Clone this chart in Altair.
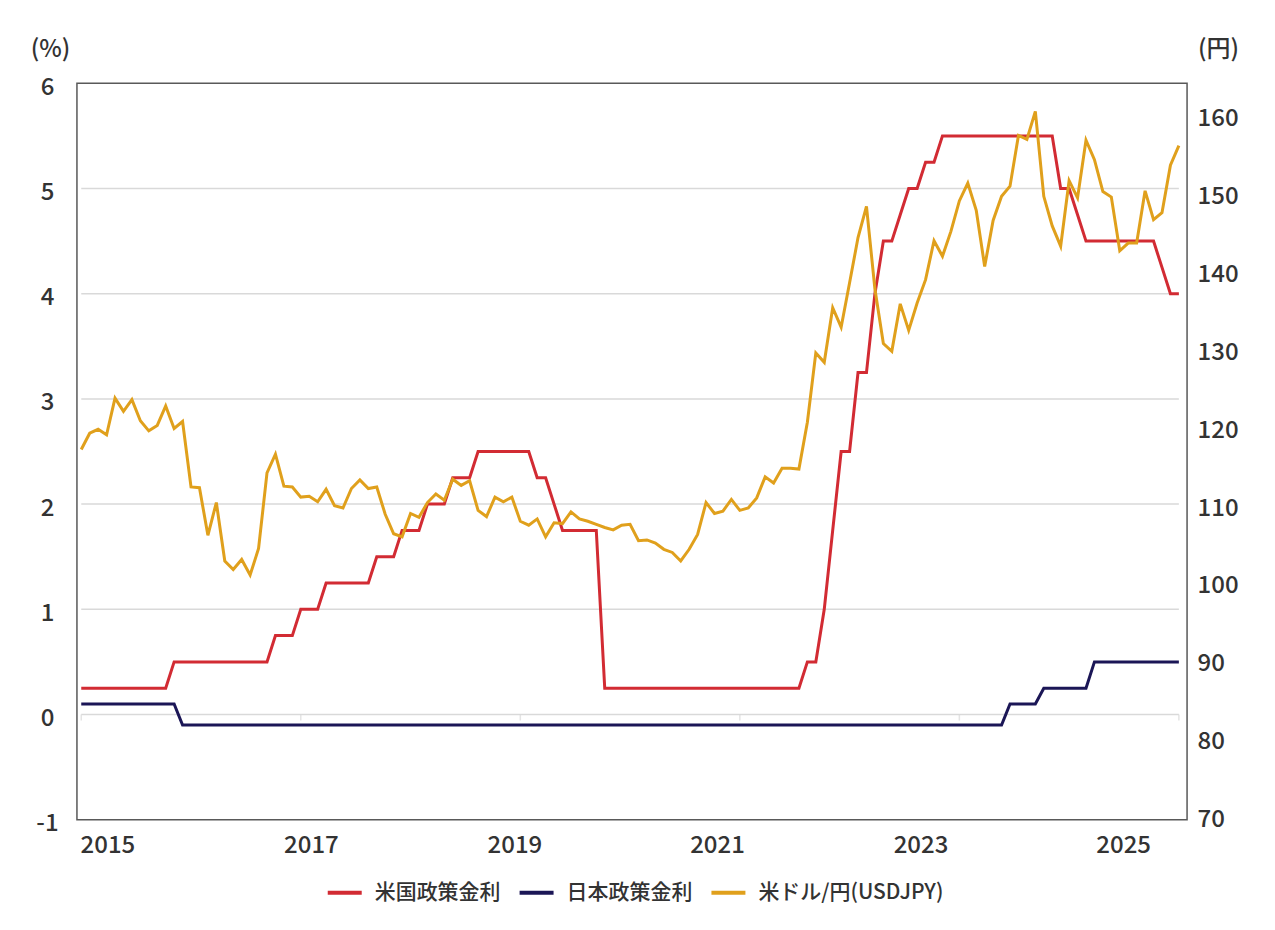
import altair as alt
import pandas as pd

# ---- data (monthly, Jan 2015 .. Nov 2025) ----
month_labels = [f"{y}-{mm:02d}" for y in range(2015, 2026) for mm in range(1, 13)][:131]

us_rate = [
    0.25, 0.25, 0.25, 0.25, 0.25, 0.25, 0.25, 0.25, 0.25, 0.25, 0.25, 0.5,
    0.5, 0.5, 0.5, 0.5, 0.5, 0.5, 0.5, 0.5, 0.5, 0.5, 0.5, 0.75,
    0.75, 0.75, 1.0, 1.0, 1.0, 1.25, 1.25, 1.25, 1.25, 1.25, 1.25, 1.5,
    1.5, 1.5, 1.75, 1.75, 1.75, 2.0, 2.0, 2.0, 2.25, 2.25, 2.25, 2.5,
    2.5, 2.5, 2.5, 2.5, 2.5, 2.5, 2.25, 2.25, 2.0, 1.75, 1.75, 1.75,
    1.75, 1.75, 0.25, 0.25, 0.25, 0.25, 0.25, 0.25, 0.25, 0.25, 0.25, 0.25,
    0.25, 0.25, 0.25, 0.25, 0.25, 0.25, 0.25, 0.25, 0.25, 0.25, 0.25, 0.25,
    0.25, 0.25, 0.5, 0.5, 1.0, 1.75, 2.5, 2.5, 3.25, 3.25, 4.0, 4.5,
    4.5, 4.75, 5.0, 5.0, 5.25, 5.25, 5.5, 5.5, 5.5, 5.5, 5.5, 5.5,
    5.5, 5.5, 5.5, 5.5, 5.5, 5.5, 5.5, 5.5, 5.0, 5.0, 4.75, 4.5,
    4.5, 4.5, 4.5, 4.5, 4.5, 4.5, 4.5, 4.5, 4.25, 4.0, 4.0,
]

jp_rate = [
    0.1, 0.1, 0.1, 0.1, 0.1, 0.1, 0.1, 0.1, 0.1, 0.1, 0.1, 0.1,
    -0.1, -0.1, -0.1, -0.1, -0.1, -0.1, -0.1, -0.1, -0.1, -0.1, -0.1, -0.1,
    -0.1, -0.1, -0.1, -0.1, -0.1, -0.1, -0.1, -0.1, -0.1, -0.1, -0.1, -0.1,
    -0.1, -0.1, -0.1, -0.1, -0.1, -0.1, -0.1, -0.1, -0.1, -0.1, -0.1, -0.1,
    -0.1, -0.1, -0.1, -0.1, -0.1, -0.1, -0.1, -0.1, -0.1, -0.1, -0.1, -0.1,
    -0.1, -0.1, -0.1, -0.1, -0.1, -0.1, -0.1, -0.1, -0.1, -0.1, -0.1, -0.1,
    -0.1, -0.1, -0.1, -0.1, -0.1, -0.1, -0.1, -0.1, -0.1, -0.1, -0.1, -0.1,
    -0.1, -0.1, -0.1, -0.1, -0.1, -0.1, -0.1, -0.1, -0.1, -0.1, -0.1, -0.1,
    -0.1, -0.1, -0.1, -0.1, -0.1, -0.1, -0.1, -0.1, -0.1, -0.1, -0.1, -0.1,
    -0.1, -0.1, 0.1, 0.1, 0.1, 0.1, 0.25, 0.25, 0.25, 0.25, 0.25, 0.25,
    0.5, 0.5, 0.5, 0.5, 0.5, 0.5, 0.5, 0.5, 0.5, 0.5, 0.5,
]

usdjpy = [
    117.5, 119.6, 120.1, 119.4, 124.1, 122.4, 123.9, 121.2, 119.9, 120.6, 123.1, 120.2,
    121.1, 112.7, 112.6, 106.5, 110.7, 103.2, 102.1, 103.4, 101.4, 104.8, 114.5, 116.9,
    112.8, 112.7, 111.4, 111.5, 110.8, 112.4, 110.3, 110.0, 112.5, 113.6, 112.5, 112.7,
    109.2, 106.7, 106.3, 109.3, 108.8, 110.7, 111.8, 111.0, 113.7, 112.9, 113.5, 109.7,
    108.9, 111.4, 110.8, 111.4, 108.3, 107.8, 108.6, 106.3, 108.1, 108.0, 109.5, 108.6,
    108.3, 107.9, 107.5, 107.2, 107.8, 107.9, 105.8, 105.9, 105.5, 104.7, 104.3, 103.2,
    104.7, 106.6, 110.7, 109.3, 109.6, 111.1, 109.7, 110.0, 111.3, 114.0, 113.2, 115.1,
    115.1, 115.0, 121.0, 129.9, 128.7, 135.7, 133.2, 138.9, 144.7, 148.7, 138.1, 131.1,
    130.1, 136.2, 132.8, 136.3, 139.3, 144.3, 142.3, 145.5, 149.4, 151.7, 148.2, 141.0,
    146.9, 150.0, 151.3, 157.8, 157.3, 160.9, 150.0, 146.2, 143.6, 152.0, 149.8, 157.2,
    154.7, 150.6, 149.9, 143.0, 144.0, 144.0, 150.7, 147.0, 147.9, 154.0, 156.5,
]

series_names = ["米国政策金利", "日本政策金利", "米ドル/円(USDJPY)"]
series_colors = ["#D22B33", "#1B1656", "#E0A01C"]

year_labels = ["2015", "2017", "2019", "2021", "2023", "2025"]
year_label_pos = [3.1, 27.2, 51.3, 75.3, 99.4, 123.4]   # month index under each label
left_ticks = [-1, 0, 1, 2, 3, 4, 5, 6]
grid_vals = [0, 1, 2, 3, 4, 5]
right_ticks = [70, 80, 90, 100, 110, 120, 130, 140, 150, 160]
cat_ticks = [0, 26, 52, 78, 104, 130]

# ---- tables ----
rows = []
for i, lab in enumerate(month_labels):
    rows.append({"m": i, "month": lab, "series": series_names[0], "value": us_rate[i]})
    rows.append({"m": i, "month": lab, "series": series_names[1], "value": jp_rate[i]})
    rows.append({"m": i, "month": lab, "series": series_names[2], "value": usdjpy[i]})
df = pd.DataFrame(rows)
grid_df = pd.DataFrame({"value": grid_vals, "m": [0] * len(grid_vals),
                        "m2": [len(month_labels) - 1] * len(grid_vals)})
tick_df = pd.DataFrame({"m": cat_ticks, "value": [0] * len(cat_ticks)})

FONT = "Noto Sans CJK JP"
TXT = "#333333"

label_expr = ""
for p, y in zip(year_label_pos, year_labels):
    label_expr += f"abs(datum.value - {p}) < 1 ? '{y}' : "
label_expr += "''"

x_scale = alt.Scale(domain=[-0.51, 130.97], nice=False, zero=False)
yl_scale = alt.Scale(domain=[-1, 6], nice=False, zero=False)
yr_scale = alt.Scale(domain=[70, 164.5], nice=False, zero=False)
color_scale = alt.Scale(domain=series_names, range=series_colors)

x_axis = alt.Axis(
    values=year_label_pos, labelExpr=label_expr, title=None, grid=False,
    domain=False, ticks=False, tickSize=0, labelPadding=14, labelBaseline="top",
    labelFont=FONT, labelFontSize=24, labelFontWeight=500, labelColor=TXT,
)
yl_axis = alt.Axis(
    orient="left", values=left_ticks, labelExpr="'' + datum.value",
    grid=False, domain=False, ticks=False, tickSize=0, labelPadding=30,
    labelAlign="center", labelBaseline="middle", labelOffset=4,
    labelFont=FONT, labelFontSize=24, labelFontWeight=500, labelColor=TXT,
    title="(%)", titleAngle=0, titleX=-27, titleY=-34, titleAlign="center",
    titleBaseline="middle", titleFont=FONT, titleFontSize=24,
    titleFontWeight=500, titleColor=TXT,
)
yr_axis = alt.Axis(
    orient="right", values=right_ticks, grid=False, domain=False,
    ticks=False, tickSize=0, labelPadding=10, labelAlign="left",
    labelBaseline="middle", labelFont=FONT, labelFontSize=24,
    labelFontWeight=500, labelColor=TXT,
    title="(円)", titleAngle=0, titleX=31, titleY=-34, titleAlign="center",
    titleBaseline="middle", titleFont=FONT, titleFontSize=24,
    titleFontWeight=500, titleColor=TXT,
)
legend = alt.Legend(
    title=None, orient="none", legendX=249, legendY=791,
    direction="horizontal", symbolType="stroke", symbolSize=1156,
    symbolStrokeWidth=4, labelFont=FONT, labelFontSize=21,
    labelFontWeight=500, labelColor=TXT, labelOffset=11, labelLimit=400,
    columnPadding=11,
)

grid = alt.Chart(grid_df).mark_rule(color="#D9D9D9", strokeWidth=1.5).encode(
    y=alt.Y("value:Q", scale=yl_scale, axis=yl_axis),
    x=alt.X("m:Q", scale=x_scale, axis=x_axis),
    x2="m2:Q",
)

cat_tick_marks = alt.Chart(tick_df).mark_tick(
    color="#D9D9D9", thickness=1.5, size=6, yOffset=3, orient="vertical"
).encode(
    x=alt.X("m:Q", scale=x_scale, axis=x_axis),
    y=alt.Y("value:Q", scale=yl_scale, axis=yl_axis),
)

left_lines = alt.Chart(df).transform_filter(
    alt.datum.series != series_names[2]
).mark_line(strokeWidth=3).encode(
    x=alt.X("m:Q", scale=x_scale, axis=x_axis),
    y=alt.Y("value:Q", scale=yl_scale, axis=yl_axis),
    color=alt.Color("series:N", scale=color_scale, legend=legend),
)

left = alt.layer(grid, cat_tick_marks, left_lines)

right = alt.Chart(df).transform_filter(
    alt.datum.series == series_names[2]
).mark_line(strokeWidth=3).encode(
    x=alt.X("m:Q", scale=x_scale, axis=x_axis),
    y=alt.Y("value:Q", scale=yr_scale, axis=yr_axis),
    color=alt.Color("series:N", scale=color_scale, legend=legend),
)

chart = alt.layer(left, right).resolve_scale(y="independent").properties(
    width=1111, height=737,
    autosize=alt.AutoSizeParams(type="none"),
    padding={"left": 69, "top": 75, "right": 80, "bottom": 100},
).configure(background="white").configure_view(stroke="#595959", strokeWidth=1.5)

chart.save("out.html", embed_options={"renderer": "svg", "actions": False})
